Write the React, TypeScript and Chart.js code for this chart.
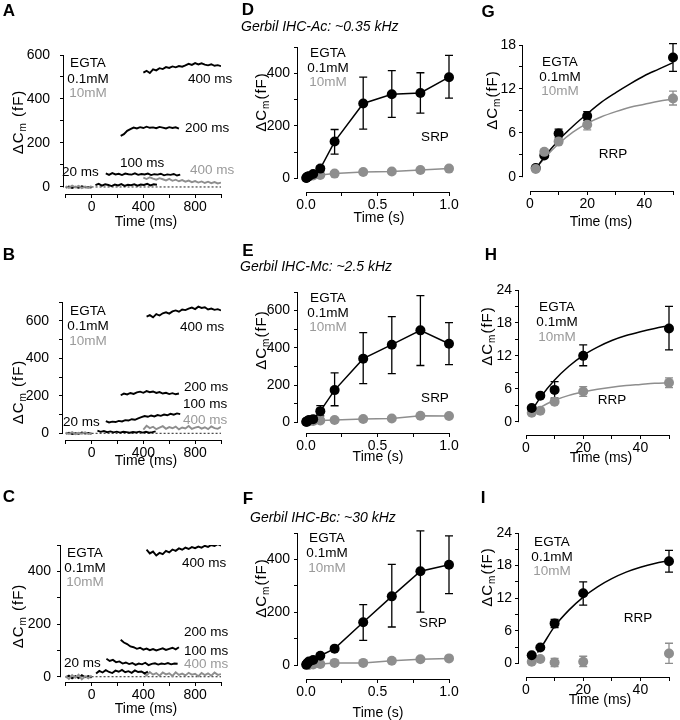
import React, { useEffect, useRef } from "react";
import { Chart, registerables } from "chart.js";
Chart.register(...registerables);

const PAGE_W = 680;
const PAGE_H = 720;
const FONT = '"Liberation Sans", Arial, Helvetica, sans-serif';
const INK = "#000000";
const GREY = "#8e8e8e";
const GREY_TEXT = "#9a9a9a";
const Y_AXIS_BOX = 56;
const X_AXIS_BOX = 28;

// ---------------- Panels A–C : capacitance traces (fF), sampled every 25 ms ----------------
const TRACE_STEP_MS = 25;
const TRACE_X_TICKS = [-200, 0, 200, 400, 600, 800, 1000];
const TRACE_X_LABELS = [0, 400, 800];
const BASELINE_T = [0, 1000];
const BASELINE_V = [0, 0];

const A_pre10 = [3, -4, 6, -2, 5, -5, 2, -3, 4];
const A_pre01 = [-3, 2, -5, 1, -4, 3, -2, 0, -3];
const A_20ms = [8, 14, 6, 12, 9, 4, 11, 7, 13, 5, 10, 8, 12, 6, 11, 9, 14, 7, 12, 10];
const A_100ms = [62, 55, 63, 57, 60, 54, 61, 58, 56, 62, 55, 59, 57, 61, 54, 58, 56, 60, 53, 57, 55, 59, 52, 56];
const A_200ms = [232, 240, 255, 263, 270, 266, 272, 268, 274, 269, 271, 267, 273, 270, 266, 272, 268, 271, 265];
const A_400ms = [520, 528, 518, 535, 530, 540, 536, 545, 541, 548, 544, 550, 547, 553, 560, 555, 563, 557, 562, 556, 553, 558, 551, 554, 549];
const A_400ms10 = [42, 36, 44, 38, 33, 40, 35, 30, 37, 28, 33, 26, 31, 24, 29, 22, 27, 20, 25, 18, 24, 17, 22, 16, 20];
const A_Y_TICKS = [0, 100, 200, 300, 400, 500, 600];
const A_Y_LABELS = [0, 200, 400, 600];

const B_pre10 = [4, -3, 6, -5, 3, -2, 5, -4, 2];
const B_pre01 = [-2, 3, -4, 1, -3, 4, -1, 2, -3];
const B_20ms = [14, 8, 12, 6, 10, 5, 9, 4, 8, 6, 3, 7, 5, 9, 4, 8, 3, 6, 10];
const B_100ms = [65, 58, 62, 60, 66, 63, 70, 68, 75, 72, 80, 86, 92, 88, 95, 90, 97, 93, 100, 96, 104, 99, 106, 102];
const B_200ms = [203, 212, 207, 215, 210, 218, 222, 216, 225, 219, 223, 215, 220, 212, 216, 209, 214, 208, 212];
const B_400ms = [622, 630, 618, 635, 628, 640, 645, 638, 650, 655, 648, 660, 657, 665, 670, 662, 675, 668, 672, 660, 665, 658, 662, 655];
const B_400ms10 = [20, 40, 28, 35, 22, 30, 38, 24, 33, 27, 36, 21, 31, 26, 39, 23, 30, 35, 25, 32, 22, 37, 28, 24, 34];
const B_Y_TICKS = [0, 100, 200, 300, 400, 500, 600, 700];
const B_Y_LABELS = [0, 200, 400, 600];

const C_pre10 = [3, -8, 6, -4, 8, -10, 2, -6, 5];
const C_pre01 = [-3, 4, -6, 2, -5, 6, -2, 3, -4];
const C_20ms = [12, 22, 16, 25, 18, 14, 23, 19, 26, 17, 21, 15, 24, 18, 20, 13, 19];
const C_100ms = [68, 60, 64, 55, 58, 50, 54, 48, 52, 45, 50, 47, 53, 44, 49, 51, 46, 50, 48, 52, 47, 50, 49];
const C_200ms = [140, 130, 124, 115, 112, 106, 110, 103, 107, 101, 105, 100, 104, 108, 102, 106, 110, 104, 112];
const C_400ms = [482, 468, 475, 460, 470, 465, 478, 472, 483, 478, 487, 482, 490, 485, 492, 488, 494, 490, 497, 493, 500, 496, 503, 498];
const C_400ms10 = [15, 5, 18, 8, 14, 4, 16, 9, 13, 3, 17, 7, 12, 5, 15, 8, 11, 2, 14, 6, 13, 4, 16, 7, 10];
const C_Y_TICKS = [0, 100, 200, 300, 400, 500];
const C_Y_LABELS = [0, 200, 400];

// ---------------- Panels D–F : SRP (time in s, ΔCm in fF) ----------------
const SRP_TIME_S = [0.002, 0.005, 0.01, 0.02, 0.05, 0.1, 0.2, 0.4, 0.6, 0.8, 1.0];
const SRP_X_TICKS = [0, 0.25, 0.5, 0.75, 1.0];
const SRP_X_LABELS = [0, 0.5, 1.0];

const D_egta01 = [1.2, 2.9, 5.9, 8.3, 16.3, 37, 140, 285, 320, 325, 385];
const D_egta01_lo = [null, null, null, null, null, 28, 92, 187, 232, 248, 305];
const D_egta01_hi = [null, null, null, null, null, 46, 186, 385, 410, 402, 468];
const D_egta10 = [1.0, 3.4, 4.8, 7.1, 10.7, 13, 18, 24, 26, 32, 37];
const D_Y_TICKS = [0, 100, 200, 300, 400, 500];
const D_Y_LABELS = [0, 200, 400];

const E_egta01 = [2.5, 4.8, 5.8, 12.0, 17.0, 60, 173, 342, 417, 494, 422];
const E_egta01_lo = [null, null, null, null, null, 35, 89, 208, 262, 305, 310];
const E_egta01_hi = [null, null, null, null, null, 90, 265, 482, 568, 680, 535];
const E_egta10 = [1.7, 2.0, 3.7, 5.5, 7.1, 10, 12, 18, 20, 35, 34];
const E_Y_TICKS = [0, 100, 200, 300, 400, 500, 600, 700];
const E_Y_LABELS = [0, 200, 400, 600];

const F_egta01 = [1.5, 2.9, 7.4, 12.9, 18.8, 35, 62, 162, 260, 355, 380];
const F_egta01_lo = [null, null, null, null, null, null, null, 93, 144, 200, 270];
const F_egta01_hi = [null, null, null, null, null, null, null, 229, 381, 508, 489];
const F_egta10 = [0.3, 0.8, 0.2, 0.3, 1.8, 4, 8, 8, 16, 22, 25];
const F_Y_TICKS = [0, 100, 200, 300, 400, 500];
const F_Y_LABELS = [0, 200, 400];

// ---------------- Panels G–I : RRP (time in ms, ΔCm in fF) ----------------
const RRP_TIME_MS = [2, 5, 10, 20, 50];
const RRP_X_TICKS = [0, 10, 20, 30, 40, 50];
const RRP_X_LABELS = [0, 20, 40];
const FIT_TIME_MS = [2, 5, 10, 15, 20, 25, 30, 35, 40, 45, 50];

const G_egta01 = [1.2, 2.9, 5.9, 8.3, 16.3];
const G_egta01_lo = [null, null, 5.3, 7.7, 14.4];
const G_egta01_hi = [null, null, 6.5, 8.9, 18.2];
const G_egta10 = [1.05, 3.4, 4.8, 7.1, 10.7];
const G_egta10_lo = [null, null, null, 6.4, 9.8];
const G_egta10_hi = [null, null, null, 7.8, 11.7];
const G_fit01_t = [3, 5, 10, 15, 20, 25, 30, 35, 40, 45, 50];
const G_fit01 = [1.6, 2.7, 5.0, 6.9, 8.6, 10.2, 11.5, 12.7, 13.8, 14.7, 15.6];
const G_fit10 = [1.1, 2.5, 4.5, 6.1, 7.3, 8.2, 8.9, 9.5, 9.9, 10.3, 10.6];
const G_Y_TICKS = [0, 3, 6, 9, 12, 15, 18];
const G_Y_LABELS = [0, 6, 12, 18];

const H_egta01 = [2.5, 4.75, 5.8, 12.0, 17.0];
const H_egta01_lo = [null, null, 4.3, 10.2, 13.1];
const H_egta01_hi = [null, null, 7.3, 14.0, 21.0];
const H_egta10 = [1.65, 2.0, 3.65, 5.5, 7.1];
const H_egta10_lo = [null, null, null, 4.6, 6.2];
const H_egta10_hi = [null, null, null, 6.4, 8.0];
const H_fit01 = [2.0, 4.4, 7.6, 10.1, 12.1, 13.6, 14.8, 15.7, 16.4, 17.0, 17.5];
const H_fit10 = [1.5, 2.6, 3.9, 4.8, 5.4, 5.9, 6.3, 6.6, 6.8, 7.0, 7.1];
const HI_Y_TICKS = [0, 3, 6, 9, 12, 15, 18, 21, 24];
const HI_Y_LABELS = [0, 6, 12, 18, 24];

const I_egta01 = [1.5, 2.9, 7.35, 12.9, 18.8];
const I_egta01_lo = [null, null, 6.6, 10.7, 16.8];
const I_egta01_hi = [null, null, 8.1, 15.0, 20.8];
const I_egta10 = [0.3, 0.8, 0.15, 0.3, 1.8];
const I_egta10_lo = [null, null, -0.6, -0.6, 0.0];
const I_egta10_hi = [null, null, 0.9, 1.3, 3.7];
const I_fit01_t = [4, 5, 10, 15, 20, 25, 30, 35, 40, 45, 50];
const I_fit01 = [2.0, 2.7, 6.8, 9.8, 12.2, 14.1, 15.6, 16.8, 17.7, 18.4, 18.9];

// ---------------- text ----------------
const LEG_TITLE = "EGTA";
const LEG_LOW = "0.1mM";
const LEG_HIGH = "10mM";
const TITLE_D = "Gerbil IHC-Ac: ~0.35 kHz";
const TITLE_E = "Gerbil IHC-Mc: ~2.5 kHz";
const TITLE_F = "Gerbil IHC-Bc: ~30 kHz";

// ---------------- helpers ----------------
type Txt = { text: string; x: number; y: number; color?: string; align?: CanvasTextAlign; font?: string };
type AxisCfg = {
  min: number; max: number; ticks: number[]; labels: number[];
  line: [number, number]; pad: number; fmt?: (v: number) => string;
};
type ErrSet = { xs: number[]; lo: (number | null)[]; hi: (number | null)[]; color: string };
type PanelCfg = {
  area: [number, number, number, number];
  x: AxisCfg; y: AxisCfg;
  datasets: any[];
  errors: ErrSet[];
  yTitle: { x: number; y: number; spaced: boolean };
  xTitle: { x: number; y: number; text: string };
  texts: Txt[];
};

const pts = (xs: number[], ys: number[]) => xs.map((x, i) => ({ x, y: ys[i] }));
const tracePts = (t0: number, vals: number[]) => vals.map((v, i) => ({ x: t0 + i * TRACE_STEP_MS, y: v }));

const traceDs = (data: any[], color: string) => ({
  data, borderColor: color, borderWidth: 1.9, pointRadius: 0, tension: 0, showLine: true, fill: false,
});
const baselineDs = () => ({
  data: pts(BASELINE_T, BASELINE_V), borderColor: "#222", borderWidth: 1, borderDash: [2, 2],
  pointRadius: 0, showLine: true, fill: false,
});
const markerDs = (xs: number[], ys: number[], color: string, connect: boolean) => ({
  data: pts(xs, ys), showLine: connect, borderColor: color, borderWidth: 1.5, pointRadius: 5,
  pointBackgroundColor: color, pointBorderColor: color, pointBorderWidth: 0, clip: false, fill: false,
});
const fitDs = (xs: number[], ys: number[], color: string) => ({
  data: pts(xs, ys), borderColor: color, borderWidth: 1.5, pointRadius: 0, showLine: true,
  cubicInterpolationMode: "monotone", clip: false, fill: false,
});

const legend = (cx: number, y0: number, y1: number, y2: number): Txt[] => [
  { text: LEG_TITLE, x: cx, y: y0 },
  { text: LEG_LOW, x: cx, y: y1 },
  { text: LEG_HIGH, x: cx, y: y2, color: GREY_TEXT },
];
const letter = (t: string, x: number, y: number): Txt => ({ text: t, x, y, font: `bold 17px ${FONT}` });
const lbl = (t: string, x: number, y: number, color = INK): Txt => ({ text: t, x, y, color, align: "left" });

const fmt1 = (v: number) => v.toFixed(1);

// ---------------- panel configs ----------------
const traceX = (min: number): AxisCfg => ({ min, max: 1000, ticks: TRACE_X_TICKS, labels: TRACE_X_LABELS, line: [-200, 1000], pad: 1 });
const srpX: AxisCfg = { min: -0.056, max: 1.0, ticks: SRP_X_TICKS, labels: SRP_X_LABELS, line: [0, 1], pad: 1, fmt: fmt1 };
const rrpX: AxisCfg = { min: -2.45, max: 50, ticks: RRP_X_TICKS, labels: RRP_X_LABELS, line: [0, 50], pad: 1 };

const tracePanel = (
  pre10: number[], pre01: number[], t20: number, v20: number[], t100: number, v100: number[],
  t200: number, v200: number[], t400: number, v400: number[], v400g: number[]
) => [
  traceDs(tracePts(-200, pre10), GREY),
  traceDs(tracePts(-200, pre01), INK),
  traceDs(tracePts(t400, v400), INK),
  traceDs(tracePts(t200, v200), INK),
  traceDs(tracePts(t100, v100), INK),
  traceDs(tracePts(t20, v20), INK),
  traceDs(tracePts(400, v400g), GREY),
  baselineDs(),
];

const PANELS: PanelCfg[] = [
  {
    area: [64, 55, 221, 194],
    x: traceX(-213),
    y: { min: -32, max: 600, ticks: A_Y_TICKS, labels: A_Y_LABELS, line: [0, 600], pad: 10 },
    datasets: tracePanel(A_pre10, A_pre01, 30, A_20ms, 110, A_100ms, 225, A_200ms, 400, A_400ms, A_400ms10),
    errors: [],
    yTitle: { x: 19, y: 122, spaced: true },
    xTitle: { x: 146, y: 222, text: "Time (ms)" },
    texts: [
      letter("A", 9, 11),
      ...legend(88, 63, 79, 93),
      lbl("400 ms", 188, 79), lbl("200 ms", 185, 128), lbl("100 ms", 120, 163),
      lbl("20 ms", 62, 172), lbl("400 ms", 190, 170, GREY_TEXT),
    ],
  },
  {
    area: [63, 302, 221, 440],
    x: traceX(-221),
    y: { min: -35.7, max: 700, ticks: B_Y_TICKS, labels: B_Y_LABELS, line: [0, 700], pad: 10 },
    datasets: tracePanel(B_pre10, B_pre01, 45, B_20ms, 110, B_100ms, 225, B_200ms, 425, B_400ms, B_400ms10),
    errors: [],
    yTitle: { x: 19, y: 392, spaced: true },
    xTitle: { x: 146, y: 461, text: "Time (ms)" },
    texts: [
      letter("B", 9, 255),
      ...legend(88, 311, 326, 341),
      lbl("400 ms", 180, 327), lbl("200 ms", 184, 387), lbl("100 ms", 183, 404),
      lbl("20 ms", 63, 422), lbl("400 ms", 183, 420, GREY_TEXT),
    ],
  },
  {
    area: [61, 545, 221, 682],
    x: traceX(-236),
    y: { min: -20, max: 500, ticks: C_Y_TICKS, labels: C_Y_LABELS, line: [0, 500], pad: 6 },
    datasets: tracePanel(C_pre10, C_pre01, 35, C_20ms, 115, C_100ms, 225, C_200ms, 425, C_400ms, C_400ms10),
    errors: [],
    yTitle: { x: 19, y: 616, spaced: true },
    xTitle: { x: 146, y: 709, text: "Time (ms)" },
    texts: [
      letter("C", 9, 497),
      ...legend(85, 553, 568, 582),
      lbl("400 ms", 182, 563), lbl("200 ms", 184, 632), lbl("100 ms", 184, 651),
      lbl("20 ms", 64, 663), lbl("400 ms", 184, 664, GREY_TEXT),
    ],
  },
  {
    area: [298, 47, 449, 192],
    x: srpX,
    y: { min: -52, max: 500, ticks: D_Y_TICKS, labels: D_Y_LABELS, line: [0, 500], pad: 4 },
    datasets: [markerDs(SRP_TIME_S, D_egta01, INK, true), markerDs(SRP_TIME_S, D_egta10, GREY, true)],
    errors: [{ xs: SRP_TIME_S, lo: D_egta01_lo, hi: D_egta01_hi, color: INK }],
    yTitle: { x: 262, y: 102, spaced: false },
    xTitle: { x: 379, y: 218, text: "Time (s)" },
    texts: [
      letter("D", 248, 10),
      { text: TITLE_D, x: 241, y: 27, align: "left", font: `italic 14px ${FONT}` },
      ...legend(328, 53, 68, 82),
      { text: "SRP", x: 435, y: 137 },
    ],
  },
  {
    area: [298, 292, 449, 433],
    x: srpX,
    y: { min: -57.5, max: 700, ticks: E_Y_TICKS, labels: E_Y_LABELS, line: [0, 700], pad: 4 },
    datasets: [markerDs(SRP_TIME_S, E_egta01, INK, true), markerDs(SRP_TIME_S, E_egta10, GREY, true)],
    errors: [{ xs: SRP_TIME_S, lo: E_egta01_lo, hi: E_egta01_hi, color: INK }],
    yTitle: { x: 262, y: 340, spaced: false },
    xTitle: { x: 378, y: 457, text: "Time (s)" },
    texts: [
      letter("E", 248, 251),
      { text: TITLE_E, x: 240, y: 267, align: "left", font: `italic 14px ${FONT}` },
      ...legend(328, 298, 313, 327),
      { text: "SRP", x: 435, y: 398 },
    ],
  },
  {
    area: [298, 533, 449, 679],
    x: srpX,
    y: { min: -53, max: 500, ticks: F_Y_TICKS, labels: F_Y_LABELS, line: [0, 500], pad: 4 },
    datasets: [markerDs(SRP_TIME_S, F_egta01, INK, true), markerDs(SRP_TIME_S, F_egta10, GREY, true)],
    errors: [{ xs: SRP_TIME_S, lo: F_egta01_lo, hi: F_egta01_hi, color: INK }],
    yTitle: { x: 262, y: 588, spaced: false },
    xTitle: { x: 378, y: 713, text: "Time (s)" },
    texts: [
      letter("F", 248, 499),
      { text: TITLE_F, x: 250, y: 518, align: "left", font: `italic 14px ${FONT}` },
      ...legend(327, 538, 553, 568),
      { text: "SRP", x: 433, y: 623 },
    ],
  },
  {
    area: [523, 45, 673, 191],
    x: rrpX,
    y: { min: -1.95, max: 18, ticks: G_Y_TICKS, labels: G_Y_LABELS, line: [0, 18], pad: 3 },
    datasets: [
      markerDs(RRP_TIME_MS, G_egta10, GREY, false),
      fitDs(G_fit01_t, G_fit01, INK),
      markerDs(RRP_TIME_MS, G_egta01, INK, false),
      fitDs(FIT_TIME_MS, G_fit10, GREY),
    ],
    errors: [
      { xs: RRP_TIME_MS, lo: G_egta01_lo, hi: G_egta01_hi, color: INK },
      { xs: RRP_TIME_MS, lo: G_egta10_lo, hi: G_egta10_hi, color: GREY },
    ],
    yTitle: { x: 493, y: 100, spaced: false },
    xTitle: { x: 601, y: 222, text: "Time (ms)" },
    texts: [
      letter("G", 488, 12),
      ...legend(560, 62, 77, 91),
      { text: "RRP", x: 613, y: 154 },
    ],
  },
  {
    area: [519, 290, 669, 435],
    x: rrpX,
    y: { min: -2.42, max: 24, ticks: HI_Y_TICKS, labels: HI_Y_LABELS, line: [0, 24], pad: 3 },
    datasets: [
      fitDs(FIT_TIME_MS, H_fit01, INK),
      markerDs(RRP_TIME_MS, H_egta01, INK, false),
      fitDs(FIT_TIME_MS, H_fit10, GREY),
      markerDs(RRP_TIME_MS, H_egta10, GREY, false),
    ],
    errors: [
      { xs: RRP_TIME_MS, lo: H_egta01_lo, hi: H_egta01_hi, color: INK },
      { xs: RRP_TIME_MS, lo: H_egta10_lo, hi: H_egta10_hi, color: GREY },
    ],
    yTitle: { x: 488, y: 336, spaced: false },
    xTitle: { x: 601, y: 458, text: "Time (ms)" },
    texts: [
      letter("H", 491, 255),
      ...legend(557, 307, 322, 337),
      { text: "RRP", x: 612, y: 400 },
    ],
  },
  {
    area: [519, 533, 669, 677],
    x: rrpX,
    y: { min: -2.52, max: 24, ticks: HI_Y_TICKS, labels: HI_Y_LABELS, line: [0, 24], pad: 3 },
    datasets: [
      fitDs(I_fit01_t, I_fit01, INK),
      markerDs(RRP_TIME_MS, I_egta01, INK, false),
      markerDs(RRP_TIME_MS, I_egta10, GREY, false),
    ],
    errors: [
      { xs: RRP_TIME_MS, lo: I_egta01_lo, hi: I_egta01_hi, color: INK },
      { xs: RRP_TIME_MS, lo: I_egta10_lo, hi: I_egta10_hi, color: GREY },
    ],
    yTitle: { x: 488, y: 577, spaced: false },
    xTitle: { x: 600, y: 700, text: "Time (ms)" },
    texts: [
      letter("I", 483, 498),
      ...legend(552, 542, 557, 571),
      { text: "RRP", x: 638, y: 618 },
    ],
  },
];

// ---------------- drawing ----------------
function drawYTitle(ctx: CanvasRenderingContext2D, cx: number, cy: number, spaced: boolean) {
  const big = `15px ${FONT}`;
  const small = `10px ${FONT}`;
  const parts = [
    { t: "\u0394C", f: big, dy: 0 },
    { t: "m", f: small, dy: 4 },
    { t: spaced ? " (fF)" : "(fF)", f: big, dy: 0 },
  ];
  ctx.save();
  ctx.translate(cx, cy);
  ctx.rotate(-Math.PI / 2);
  ctx.fillStyle = INK;
  ctx.textBaseline = "middle";
  ctx.textAlign = "left";
  try { (ctx as any).letterSpacing = "1px"; } catch (e) { /* ignore */ }
  let total = 0;
  const widths = parts.map((p) => { ctx.font = p.f; const w = ctx.measureText(p.t).width; total += w; return w; });
  let x = -total / 2;
  parts.forEach((p, i) => { ctx.font = p.f; ctx.fillText(p.t, x, p.dy); x += widths[i]; });
  ctx.restore();
}

function makeOverlay(cfg: PanelCfg) {
  return {
    id: "overlay",
    beforeDatasetsDraw(chart: any) {
      const ctx: CanvasRenderingContext2D = chart.ctx;
      const xs = chart.scales.x, ys = chart.scales.y;
      ctx.save();
      ctx.lineWidth = 1.3;
      for (const e of cfg.errors) {
        ctx.strokeStyle = e.color;
        e.xs.forEach((xv, i) => {
          const lo = e.lo[i], hi = e.hi[i];
          if (lo == null || hi == null) return;
          const px = xs.getPixelForValue(xv);
          const p1 = ys.getPixelForValue(lo), p2 = ys.getPixelForValue(hi);
          ctx.beginPath();
          ctx.moveTo(px, p1); ctx.lineTo(px, p2);
          ctx.moveTo(px - 4, p1); ctx.lineTo(px + 4, p1);
          ctx.moveTo(px - 4, p2); ctx.lineTo(px + 4, p2);
          ctx.stroke();
        });
      }
      ctx.restore();
    },
    afterDraw(chart: any) {
      const ctx: CanvasRenderingContext2D = chart.ctx;
      const xs = chart.scales.x, ys = chart.scales.y;
      const { left, bottom } = chart.chartArea;
      ctx.save();
      ctx.strokeStyle = INK;
      ctx.lineWidth = 1;
      ctx.beginPath();
      ctx.moveTo(xs.getPixelForValue(cfg.x.line[0]), bottom + 0.5);
      ctx.lineTo(xs.getPixelForValue(cfg.x.line[1]), bottom + 0.5);
      ctx.moveTo(left - 0.5, ys.getPixelForValue(cfg.y.line[0]) + 0.5);
      ctx.lineTo(left - 0.5, ys.getPixelForValue(cfg.y.line[1]));
      ctx.stroke();

      ctx.textBaseline = "middle";
      for (const t of cfg.texts) {
        ctx.font = t.font || `13.5px ${FONT}`;
        ctx.fillStyle = t.color || INK;
        ctx.textAlign = t.align || "center";
        ctx.fillText(t.text, t.x, t.y);
      }
      ctx.font = `14px ${FONT}`;
      ctx.fillStyle = INK;
      ctx.textAlign = "center";
      ctx.fillText(cfg.xTitle.text, cfg.xTitle.x, cfg.xTitle.y);
      ctx.restore();
      drawYTitle(ctx, cfg.yTitle.x, cfg.yTitle.y, cfg.yTitle.spaced);
    },
  };
}

function scaleOpts(a: AxisCfg, horizontal: boolean) {
  return {
    type: "linear",
    min: a.min,
    max: a.max,
    bounds: "data",
    afterFit: (s: any) => { if (horizontal) s.height = X_AXIS_BOX; else s.width = Y_AXIS_BOX; },
    afterBuildTicks: (s: any) => { s.ticks = a.ticks.map((v) => ({ value: v })); },
    grid: { display: true, drawOnChartArea: false, drawTicks: true, tickLength: 4, color: INK, lineWidth: 1 },
    border: { display: false },
    title: { display: false },
    ticks: {
      autoSkip: false,
      maxRotation: 0,
      minRotation: 0,
      padding: a.pad,
      color: INK,
      font: { family: FONT, size: 14 },
      callback: (v: any) => (a.labels.includes(Number(v)) ? (a.fmt ? a.fmt(Number(v)) : String(v)) : ""),
    },
  };
}

function Panel({ cfg }: { cfg: PanelCfg }) {
  const ref = useRef<HTMLCanvasElement>(null);
  useEffect(() => {
    if (!ref.current) return;
    const [l, t, r, b] = cfg.area;
    const chart = new Chart(ref.current, {
      type: "line",
      data: { datasets: cfg.datasets },
      options: {
        responsive: false,
        maintainAspectRatio: false,
        devicePixelRatio: 1,
        animation: false,
        events: [],
        layout: {
          padding: {
            left: l - Y_AXIS_BOX,
            top: t,
            right: PAGE_W - r,
            bottom: PAGE_H - b - X_AXIS_BOX,
          },
        },
        plugins: { legend: { display: false }, tooltip: { enabled: false }, title: { display: false } },
        scales: { x: scaleOpts(cfg.x, true), y: scaleOpts(cfg.y, false) },
      } as any,
      plugins: [makeOverlay(cfg)],
    } as any);
    return () => chart.destroy();
  }, [cfg]);
  return (
    <canvas
      ref={ref}
      width={PAGE_W}
      height={PAGE_H}
      style={{ position: "absolute", left: 0, top: 0, width: PAGE_W, height: PAGE_H }}
    />
  );
}

export default function App() {
  return (
    <div style={{ position: "absolute", left: 0, top: 0, width: PAGE_W, height: PAGE_H, background: "#fff", overflow: "hidden" }}>
      {PANELS.map((p, i) => (
        <Panel key={i} cfg={p} />
      ))}
    </div>
  );
}
